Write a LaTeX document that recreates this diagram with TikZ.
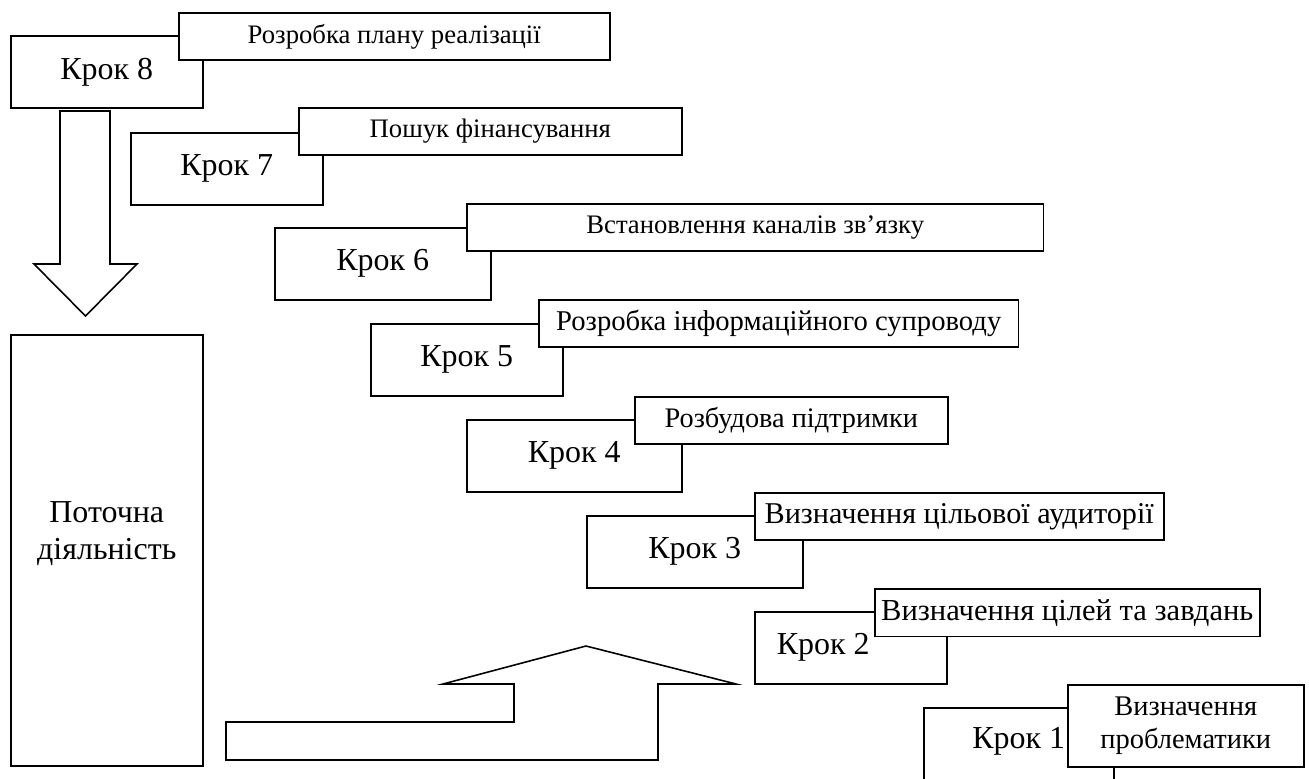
\documentclass[tikz,border=0pt]{standalone}
\usepackage{fontspec}
\setmainfont{Liberation Serif}
\tikzset{
  krok/.style={draw, fill=white, line width=.9pt, anchor=north west,
    minimum width=#1, minimum height=1.44cm, inner sep=0pt,
    font=\fontsize{18.2}{21.2}\selectfont},
  krok/.default=3.84cm,
  zavd/.style={draw, fill=white, line width=.9pt, anchor=north west,
    minimum width=#1, minimum height=.95cm, inner sep=0pt,
    font=\fontsize{15.2}{17.5}\selectfont},
  big/.style={font=\fontsize{#1}{#1}\selectfont},
  blokstr/.style={draw, fill=white, line width=.9pt, line join=miter},
}

\begin{document}
\begin{tikzpicture}[x=.02cm,y=-.02cm]
  \useasboundingbox (0,0) rectangle (1309,778);
  \clip (0,0) rectangle (1309,778);
  % kroky
  \node[krok] (k8) at (10,35) {Крок 8};
  \node[zavd=8.62cm] (t8) at (178,12) {Розробка плану реалізації};
  \node[krok] (k7) at (130,132) {Крок 7};
  \node[zavd=7.66cm] (t7) at (298,107) {Пошук фінансування};
  \node[krok=4.32cm] (k6) at (274,227) {Крок 6};
  \node[zavd=11.54cm] (t6) at (466,203) {Встановлення каналів зв’язку};
  \node[krok] (k5) at (370,323) {Крок 5};
  \node[zavd=9.6cm, big=16.3] (t5) at (538,299) {Розробка інформаційного супроводу};
  \node[krok=4.3cm] (k4) at (466,419) {Крок 4};
  \node[zavd=6.26cm, big=16.1] (t4) at (634,396) {Розбудова підтримки};
  \node[krok=4.32cm] (k3) at (586,515) {Крок 3};
  \node[zavd=8.18cm, big=17.2] (t3) at (754,492) {Визначення цільової аудиторії};
  \node[krok, text width=2.96cm, align=flush left, inner xsep=.44cm] (k2) at (754,611) {Крок 2};
  \node[zavd=7.7cm, big=17.4] (t2) at (874,588) {Визначення цілей та завдань};
  \node[krok=3.8cm, minimum height=1.8cm, text depth=.6cm] (k1) at (923,707) {Крок 1};
  \node[zavd=4.72cm, minimum height=1.64cm, align=center, font=\fontsize{16.2}{18.6}\selectfont] (t1) at (1067,684) {Визначення\\проблематики};
  % potochna diialnist
  \node[krok, minimum height=8.62cm, text depth=.8cm, align=center] (pd) at (10,334) {Поточна\\діяльність};
  % strilky
  \draw[blokstr] (60,111) -- (110,111) -- (110,264) -- (137,264) -- (85.5,316) -- (34,264) -- (60,264) -- cycle;
  \draw[blokstr] (226,722) -- (514,722) -- (514,684) -- (443,684) -- (586,646) -- (736,684)
    -- (658,684) -- (658,760) -- (226,760) -- cycle;
\end{tikzpicture}
\end{document}
